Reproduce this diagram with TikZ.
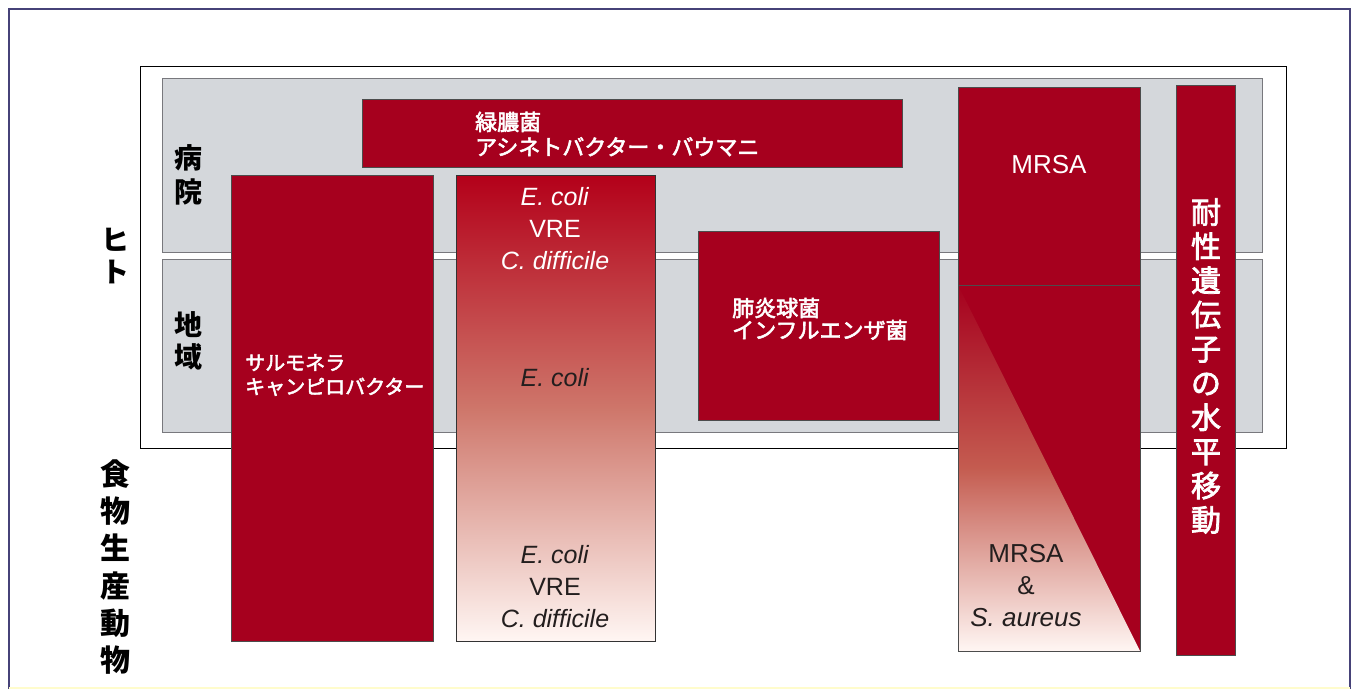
\documentclass[tikz,border=0pt]{standalone}
\usepackage{fontspec}
\setmainfont{Liberation Sans}
\newfontfamily\jp{Noto Sans CJK JP}
\newfontfamily\jpm[FakeBold=2.5]{Noto Sans CJK JP}
\definecolor{deep}{RGB}{166,0,30}
\definecolor{panel}{RGB}{212,215,219}
\definecolor{panelline}{RGB}{120,120,125}
\definecolor{frameblue}{RGB}{70,66,120}
\definecolor{salmon}{RGB}{206,118,106}
\definecolor{pale}{RGB}{255,246,243}
\definecolor{darktxt}{RGB}{35,30,30}
\tikzset{
  redbox/.style={fill=deep, draw=black!70, line width=0.6pt},
  graypanel/.style={fill=panel, draw=panelline, line width=0.8pt},
  jpw/.style={text=white, align=left, inner sep=0pt},
  vlabel/.style={text=black, align=center, inner sep=0pt},
  lat/.style={font=\fontsize{25}{32}\selectfont, align=center, inner sep=0pt}
}
\begin{document}
\begin{tikzpicture}[x=1pt,y=-1pt]
\useasboundingbox (0,0) rectangle (1357,690);
\fill[white] (0,0) rectangle (1357,690);
% outer border
\draw[frameblue, line width=2pt] (9,689) -- (9,9) -- (1350,9) -- (1350,689);
\draw[yellow!20, line width=1.5pt] (9,688) -- (1350,688);
% human frame
\draw[black, line width=0.8pt, fill=white] (140,66) rectangle (1286,448);
% panels
\draw[graypanel] (162,78) rectangle (1262,252);
\draw[graypanel] (162,259) rectangle (1262,432);
% red boxes
\draw[redbox] (362,99) rectangle (902,167);
\draw[redbox] (231,175) rectangle (433,641);
\draw[draw=black!80, line width=0.6pt, top color=deep!85!red, bottom color=pale, middle color=salmon] (456,175) rectangle (655,641);
\draw[redbox] (698,231) rectangle (939,420);
% MRSA column
\fill[deep] (958,87) rectangle (1140,651);
\shade[top color=deep, bottom color=pale, middle color={rgb,255:red,196;green,92;blue,80}] (958,285) -- (1140,651) -- (958,651) -- cycle;
\draw[black!70, line width=0.6pt] (958,285) -- (1140,285);
\draw[black!70, line width=0.6pt] (958,87) rectangle (1140,651);
% gene transfer column
\draw[redbox] (1176,85) rectangle (1235,655);

% left labels
\node[vlabel, font=\jp\bfseries\fontsize{28}{32}\selectfont] (hito) at (115,256) {ヒ\\ト};
\node[vlabel, font=\jp\bfseries\fontsize{28}{34}\selectfont] (byoin) at (188,175) {病\\院};
\node[vlabel, font=\jp\bfseries\fontsize{28}{32}\selectfont] (chiiki) at (188,341) {地\\域};
\node[vlabel, font=\jp\bfseries\fontsize{30}{37.2}\selectfont] (food) at (115,567) {食\\物\\生\\産\\動\\物};

% box texts
\node[jpw, anchor=west, font=\jpm\fontsize{22}{25}\selectfont] (ryoku) at (475,134) {緑膿菌\\アシネトバクター・バウマニ};
\node[jpw, anchor=west, font=\jpm\fontsize{20}{24}\selectfont] (salm) at (245,375) {サルモネラ\\キャンピロバクター};
\node[jpw, anchor=west, font=\jpm\fontsize{22}{22}\selectfont] (haien) at (732,319) {肺炎球菌\\インフルエンザ菌};
\node[lat, text=white] (ecolitop) at (555,229) {\textit{E. coli}\\VRE\\\textit{C. difficile}};
\node[lat, text=darktxt] (ecolimid) at (555,378) {\textit{E. coli}};
\node[lat, text=darktxt] (ecolibot) at (555,587) {\textit{E. coli}\\VRE\\\textit{C. difficile}};
\node[lat, text=white, font=\fontsize{26}{32}\selectfont] (mrsatop) at (1049,165) {MRSA};
\node[lat, text=darktxt, font=\fontsize{26}{32}\selectfont] (mrsabot) at (1026,586) {MRSA\\\&\\\textit{S. aureus}};
\node[vlabel, text=white, font=\jpm\fontsize{30}{34.2}\selectfont] (gene) at (1206,366) {耐\\性\\遺\\伝\\子\\の\\水\\平\\移\\動};
\end{tikzpicture}
\end{document}
